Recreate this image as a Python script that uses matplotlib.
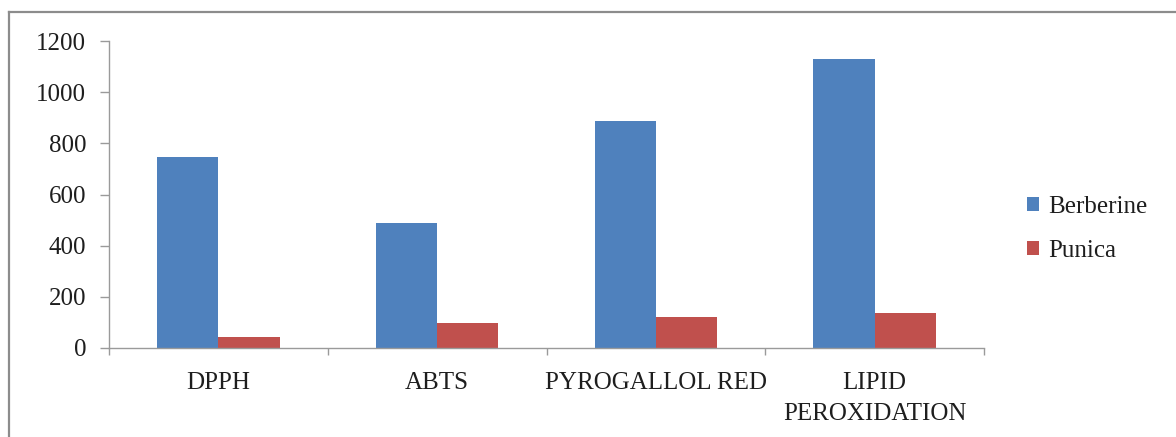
import matplotlib
matplotlib.use("Agg")
import matplotlib.pyplot as plt
from matplotlib.lines import Line2D
from matplotlib.ticker import FixedLocator, NullFormatter
import numpy as np

categories = ["DPPH", "ABTS", "PYROGALLOL RED", "LIPID\nPEROXIDATION"]
berberine = [748, 487, 887, 1128]
punica = [44, 99, 120, 136]
series_names = ["Berberine", "Punica"]
y_ticks = [0, 200, 400, 600, 800, 1000, 1200]

plt.rcParams["font.family"] = ["Liberation Serif", "DejaVu Serif"]

W, H, DPI = 1176, 437, 100
fig = plt.figure(figsize=(W / DPI, H / DPI), dpi=DPI)

ax = fig.add_axes([109 / W, 1 - 348 / H, (984 - 109) / W, (348 - 41) / H])

x = np.arange(len(categories))
bw = 0.28
ax.bar(x - bw / 2, berberine, bw, color="#4F81BD", label=series_names[0])
ax.bar(x + bw / 2, punica, bw, color="#C0504D", label=series_names[1])

ax.set_xlim(-0.5, len(categories) - 0.5)
ax.set_ylim(0, 1200)
ax.set_yticks(y_ticks)

fs = 18
axis_gray = "#9a9a9a"
text_col = "#1e1e1e"
for side in ("top", "right"):
    ax.spines[side].set_visible(False)
for side in ("left", "bottom"):
    ax.spines[side].set_color(axis_gray)
    ax.spines[side].set_linewidth(1.0)

ax.tick_params(axis="y", direction="out", length=6.5, width=1, color=axis_gray,
               pad=10, labelsize=fs, labelcolor=text_col)

ax.set_xticks(x)
ax.set_xticklabels(categories, linespacing=1.55)
ax.tick_params(axis="x", which="major", length=0, pad=17, labelsize=fs,
               labelcolor=text_col)
ax.xaxis.set_minor_locator(FixedLocator(np.arange(-0.5, len(categories), 1.0)))
ax.xaxis.set_minor_formatter(NullFormatter())
ax.tick_params(axis="x", which="minor", direction="out", length=5, width=1,
               color=axis_gray)

leg = ax.legend(loc="center left", bbox_to_anchor=(1.0377, 0.388), frameon=False,
                fontsize=fs, handlelength=0.5, handleheight=0.5,
                handletextpad=0.35, labelspacing=0.9, borderaxespad=0,
                borderpad=0.4)
for t in leg.get_texts():
    t.set_color(text_col)

# outer chart border (top and left edges)
border = "#8c8c8c"
fig.add_artist(Line2D([9 / W, 1.0], [1 - 12 / H, 1 - 12 / H], color=border,
                      lw=1.6, transform=fig.transFigure))
fig.add_artist(Line2D([9 / W, 9 / W], [0.0, 1 - 12 / H], color=border,
                      lw=1.6, transform=fig.transFigure))

fig.savefig("out.png", dpi=DPI)
